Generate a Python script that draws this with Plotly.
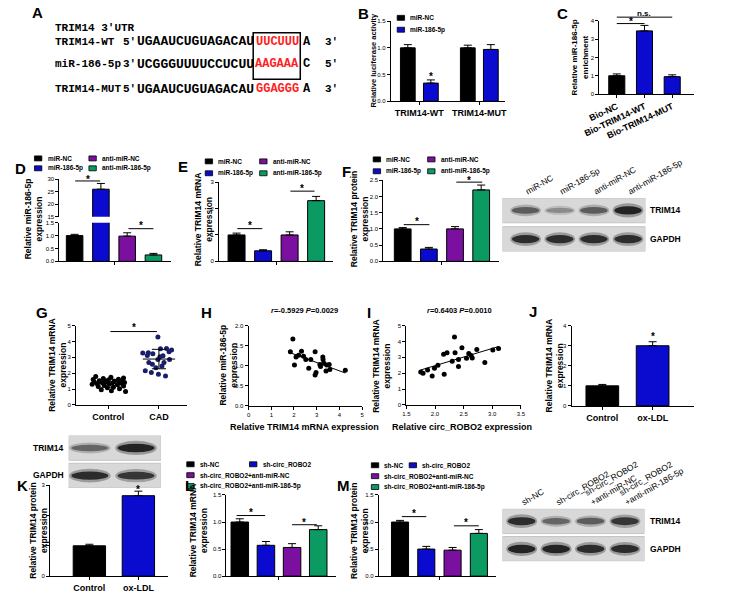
import numpy as np
import plotly.graph_objects as go

W, H = 740, 593
SANS = "Liberation Sans, Arial, sans-serif"
MONO = "Liberation Mono, Courier New, monospace"
C_BLACK, C_BLUE, C_PURPLE, C_GREEN, C_NAVY, C_RED = "#000000", "#0b0bcf", "#7a0fa0", "#0b9a62", "#1b1f6b", "#ff1e1e"

# ================= DATA =================
# Panel A
a_header = "TRIM14 3'UTR"
a_names = ["TRIM14-WT", "miR-186-5p", "TRIM14-MUT"]
a_end_l = ["5'", "3'", "5'"]
a_seq_l = ["UGAAUCUGUAGACAU", "UCGGGUUUUCCUCUU", "UGAAUCUGUAGACAU"]
a_site = ["UUCUUU", "AAGAAA", "GGAGGG"]
a_seq_r = ["A", "C", "A"]
a_end_r = ["3'", "5'", "3'"]

# Panel B
b_groups = ["TRIM14-WT", "TRIM14-MUT"]
b_series = ["miR-NC", "miR-186-5p"]
b_nc = [1.0, 1.0]
b_nc_err = [0.06, 0.05]
b_mir = [0.34, 0.97]
b_mir_err = [0.06, 0.09]

# Panel C
c_cats = ["Bio-NC", "Bio-TRIM14-WT", "Bio-TRIM14-MUT"]
c_vals = [1.0, 3.45, 0.95]
c_err = [0.1, 0.3, 0.1]

# Panels D/E/F
def_series = ["miR-NC", "miR-186-5p", "anti-miR-NC", "anti-miR-186-5p"]
d_vals = [1.0, 26.0, 0.98, 0.25]
d_err = [0.05, 2.3, 0.13, 0.06]
e_vals = [1.0, 0.40, 1.0, 2.30]
e_err = [0.07, 0.04, 0.12, 0.16]
f_vals = [1.0, 0.38, 1.0, 2.20]
f_err = [0.04, 0.05, 0.07, 0.15]
f_blot_trim14 = [0.70, 0.45, 0.70, 1.00]
f_blot_gapdh = [0.95, 0.95, 0.95, 0.95]

# Panel G
g_cats = ["Control", "CAD"]
ctrl_y = [1.80, 1.74, 1.70, 1.66, 1.62, 1.60, 1.57, 1.55, 1.52, 1.50, 1.48, 1.46, 1.44, 1.42, 1.40,
          1.38, 1.36, 1.34, 1.32, 1.30, 1.27, 1.24, 1.20, 1.16, 1.12, 1.08, 1.02, 0.96, 0.90, 0.84]
ctrl_dx = [-0.25, 0.05, 0.30, -0.10, 0.20, -0.30, 0.00, 0.28, -0.18, 0.12, -0.05, 0.22, -0.28, 0.32, -0.12,
           0.08, 0.26, -0.22, 0.02, -0.32, 0.18, -0.08, 0.30, -0.20, 0.10, -0.02, 0.22, -0.14, 0.06, 0.34]
cad_y = [4.29, 3.56, 3.55, 3.46, 3.29, 3.27, 3.23, 3.12, 3.10, 3.04, 2.87, 2.87, 2.67, 2.67, 2.56,
         2.46, 2.35, 2.15, 2.04, 1.94, 1.83, 3.35]
cad_dx = [-0.02, 0.15, 0.03, 0.25, -0.21, -0.32, -0.12, -0.23, 0.08, 0.02, -0.02, 0.21, 0.10, -0.20, -0.13,
          0.06, -0.06, -0.27, -0.15, -0.01, 0.13, 0.20]

# Panel H
h_title = "<i>r</i>=-0.5929 <i>P</i>=0.0029"
h_x = [1.95, 1.84, 2.09, 2.20, 2.33, 2.42, 2.52, 2.02, 2.74, 2.93, 2.65, 2.93, 2.97, 3.14, 3.17, 3.27,
       3.28, 3.31, 3.44, 3.55, 3.41, 3.58, 4.26]
h_y = [1.67, 1.35, 1.22, 1.26, 1.36, 1.24, 1.16, 1.02, 1.16, 1.35, 0.94, 0.77, 0.83, 1.03, 0.98, 1.22,
       1.16, 1.07, 1.02, 1.03, 0.87, 0.91, 0.89]

# Panel I
i_title = "<i>r</i>=0.6403 <i>P</i>=0.0010"
i_x = [1.75, 1.79, 1.87, 1.95, 1.99, 2.05, 2.15, 2.16, 2.21, 2.30, 2.34, 2.35, 2.41, 2.41, 2.47, 2.55,
       2.59, 2.63, 2.65, 2.73, 2.87, 3.01, 3.11]
i_y = [2.08, 2.00, 2.21, 1.83, 2.31, 2.50, 3.19, 1.94, 3.29, 2.75, 4.29, 3.29, 2.87, 2.42, 3.60, 2.94,
       3.25, 3.12, 2.96, 3.50, 2.67, 3.46, 3.56]

# Panels J/K
jk_cats = ["Control", "ox-LDL"]
j_vals = [1.0, 3.0]
j_err = [0.07, 0.2]
k_vals = [1.0, 2.65]
k_err = [0.05, 0.15]
k_blot_trim14 = [0.65, 1.00]
k_blot_gapdh = [0.95, 0.90]

# Panels L/M
lm_series = ["sh-NC", "sh-circ_ROBO2", "sh-circ_ROBO2+anti-miR-NC", "sh-circ_ROBO2+anti-miR-186-5p"]
l_vals = [1.0, 0.57, 0.53, 0.86]
l_err = [0.06, 0.07, 0.07, 0.07]
m_vals = [1.0, 0.50, 0.48, 0.79]
m_err = [0.03, 0.05, 0.05, 0.07]
m_lanes = ["sh-NC", "sh-circ_ROBO2", "sh-circ_ROBO2<br>+anti-miR-NC", "sh-circ_ROBO2<br>+anti-miR-186-5p"]
m_blot_trim14 = [0.95, 0.65, 0.70, 0.90]
m_blot_gapdh = [1.00, 1.00, 0.95, 0.95]

COLORS4 = [C_BLACK, C_BLUE, C_PURPLE, C_GREEN]

# ================= HELPERS =================
fig = go.Figure()
layout = {}
shapes = []
annos = []
n_ax = [0]
GEOM = {}

AX = dict(showline=True, linecolor="black", linewidth=1, ticks="outside", ticklen=3, tickwidth=1,
          tickcolor="black", showgrid=False, zeroline=False, fixedrange=True,
          tickfont=dict(size=6, family=SANS, color="black"))


def add_axes(x0, x1, ytop, ybot, xr, yr, xkw=None, ykw=None):
    n_ax[0] += 1
    i = n_ax[0]
    s = "" if i == 1 else str(i)
    xa = dict(AX)
    xa.update(domain=[x0 / W, x1 / W], range=xr, anchor="y" + s)
    ya = dict(AX)
    ya.update(domain=[1 - ybot / H, 1 - ytop / H], range=yr, anchor="x" + s)
    if xkw:
        xa.update(xkw)
    if ykw:
        ya.update(ykw)
    layout["xaxis" + s] = xa
    layout["yaxis" + s] = ya
    GEOM["x" + s] = (x0, x1, xr)
    GEOM["y" + s] = (ytop, ybot, yr)
    return "x" + s, "y" + s


def xpx(xa, v):
    a, b, r = GEOM[xa]
    return a + (v - r[0]) / (r[1] - r[0]) * (b - a)


def ypx(ya, v):
    t, b, r = GEOM[ya]
    return b - (v - r[0]) / (r[1] - r[0]) * (b - t)


def txt(x, y, s, size=8, bold=False, xanchor="center", yanchor="middle", angle=0, color="black",
        family=SANS, yshift=0):
    annos.append(dict(x=x / W, y=1 - y / H, xref="paper", yref="paper", text=(f"<b>{s}</b>" if bold else s),
                      showarrow=False, xanchor=xanchor, yanchor=yanchor, textangle=angle, yshift=yshift,
                      font=dict(size=size, family=family, color=color)))


def legend_item(xsq, y, color, text):
    shapes.append(dict(type="rect", xref="paper", yref="paper", x0=xsq / W, x1=(xsq + 8) / W,
                       y0=1 - (y + 2.5) / H, y1=1 - (y - 2.5) / H, fillcolor=color,
                       line=dict(color="black", width=0.8)))
    txt(xsq + 12, y, text, size=6.5, bold=True, xanchor="left")


def bars(xa, ya, vals, errs, colors, width):
    fig.add_trace(go.Bar(x=list(range(len(vals))), y=vals, width=width,
                         marker=dict(color=colors, line=dict(color="black", width=1)),
                         error_y=dict(type="data", array=errs, arrayminus=[0] * len(vals), symmetric=False,
                                      color="black", thickness=1, width=4),
                         xaxis=xa, yaxis=ya, showlegend=False, hoverinfo="skip"))


def sig(xa, ya, x0, x1, yline, ystar, label="*", size=10):
    if x0 is not None:
        py = ypx(ya, yline)
        shapes.append(dict(type="line", xref="paper", yref="paper", x0=xpx(xa, x0) / W, x1=xpx(xa, x1) / W,
                           y0=1 - py / H, y1=1 - py / H, line=dict(color="black", width=1)))
        xc = (x0 + x1) / 2
    else:
        xc = x1
    txt(xpx(xa, xc), ypx(ya, ystar), label, size=size, bold=True, yshift=-2)


def blot(x0, x1, ytop, ybot, xr, gap, top_int, bot_int, lanes=None):
    xkw = dict(showline=False, ticks="", side="top", tickangle=-30, showticklabels=lanes is not None,
               tickvals=list(range(len(top_int))), ticktext=lanes or [""] * len(top_int),
               tickfont=dict(size=8.5, family=SANS, color="black"))
    ykw = dict(visible=False)
    xa, ya = add_axes(x0, x1, ytop, ybot, xr, [0, 2 + gap], xkw, ykw)
    for (r0, r1) in [(0, 1), (1 + gap, 2 + gap)]:
        shapes.append(dict(type="rect", xref=xa, yref=ya, x0=xr[0], x1=xr[1], y0=r0, y1=r1,
                           fillcolor="#d8d8d8", line=dict(color="#c4c4c4", width=1), layer="below"))
    for row_base, ints in [(0, bot_int), (1 + gap, top_int)]:
        yc = row_base + 0.5
        for i, v in enumerate(ints):
            h = 0.12 + 0.22 * v
            g = int(225 - 190 * v)
            shapes.append(dict(type="circle", xref=xa, yref=ya, x0=i - 0.45, x1=i + 0.45,
                               y0=yc - h * 0.85, y1=yc + h * 0.85, fillcolor=f"rgba({g},{g},{g},0.35)",
                               line=dict(width=0)))
            shapes.append(dict(type="circle", xref=xa, yref=ya, x0=i - 0.40, x1=i + 0.40,
                               y0=yc - h / 2, y1=yc + h / 2, fillcolor=f"rgb({g},{g},{g})",
                               line=dict(width=0)))
    return xa, ya


# ================= PANEL A =================
txt(23, 10, "A", size=15, bold=True)
txt(40, 25, a_header, size=11, bold=True, xanchor="left", family=MONO)
rows_y = [39, 62, 87]
for k in range(3):
    y = rows_y[k]
    txt(40, y, a_names[k], size=11, bold=True, xanchor="left", family=MONO)
    txt(114, y, a_end_l[k], size=11, bold=True, xanchor="left", family=MONO)
    txt(129, y, a_seq_l[k], size=13, bold=True, xanchor="left", family=MONO)
    txt(283, y, a_site[k], size=12, bold=True, family=MONO, color=C_RED)
    txt(315, y, a_seq_r[k], size=12, bold=True, family=MONO)
    txt(333, y, a_end_r[k], size=11, bold=True, xanchor="left", family=MONO)
shapes.append(dict(type="rect", xref="paper", yref="paper", x0=257 / W, x1=308 / W, y0=1 - 77 / H, y1=1 - 30 / H,
                   line=dict(color="black", width=1.5)))

# ================= PANEL B =================
txt(377, 11, "B", size=15, bold=True)
xa, ya = add_axes(406, 530, 18.3, 99.3, [-0.477, 1.431], [0, 1.5],
                  dict(tickvals=[0, 1], ticktext=[f"<b>{g}</b>" for g in b_groups],
                       tickfont=dict(size=9, family=SANS, color="black")),
                  dict(tickvals=[0, 0.5, 1.0, 1.5], tickformat=".1f"))
for vals, errs, col, off in [(b_nc, b_nc_err, C_BLACK, -0.315), (b_mir, b_mir_err, C_BLUE, 0.069)]:
    fig.add_trace(go.Bar(x=[0, 1], y=vals, width=0.246, offset=off,
                         marker=dict(color=col, line=dict(color="black", width=1)),
                         error_y=dict(type="data", array=errs, arrayminus=[0, 0], symmetric=False,
                                      color="black", thickness=1, width=4),
                         xaxis=xa, yaxis=ya, showlegend=False, hoverinfo="skip"))
sig(xa, ya, None, 0.19, None, 0.51)
txt(387, 58, "Relative luciferase activity", size=7.5, bold=True, angle=-90)
legend_item(413, 15, C_BLACK, b_series[0])
legend_item(413, 27, C_BLUE, b_series[1])

# ================= PANEL C =================
txt(592, 11, "C", size=15, bold=True)
xa, ya = add_axes(632, 735, 18, 92, [-0.63, 2.8], [0, 4],
                  dict(tickvals=[0, 1, 2], ticktext=[f"<b>{c}</b>" for c in c_cats], tickangle=-25,
                       tickfont=dict(size=9, family=SANS, color="black")),
                  dict(tickvals=[0, 1, 2, 3, 4]))
bars(xa, ya, c_vals, c_err, [C_BLACK, C_BLUE, C_BLUE], 0.58)
sig(xa, ya, 0, 1, 3.85, 4.05)
sig(xa, ya, 0, 2, 4.2, 4.5, label="n.s.", size=8)
txt(611, 55, "Relative miR-186-5p<br>enrichment", size=8, bold=True, angle=-90)

# ================= PANEL D (broken axis) =================
txt(5, 167, "D", size=15, bold=True)
legend_item(20, 157, COLORS4[0], def_series[0])
legend_item(20, 167, COLORS4[1], def_series[1])
legend_item(79, 157, COLORS4[2], def_series[2])
legend_item(79, 167, COLORS4[3], def_series[3])
dxr = [-0.58, 3.67]
xa, ya = add_axes(47, 168, 222, 261, dxr, [0, 1.5],
                  dict(tickvals=[1.5], ticktext=[""]),
                  dict(tickvals=[0, 0.5, 1.0, 1.5], tickformat=".1f"))
d_low_err = [e if v <= 1.5 else 0 for v, e in zip(d_vals, d_err)]
bars(xa, ya, d_vals, d_low_err, COLORS4, 0.63)
sig(xa, ya, 2.05, 3.0, 1.27, 1.47)
xa2, ya2 = add_axes(47, 168, 178, 216, dxr, [15, 30],
                    dict(visible=False), dict(tickvals=[15, 20, 25, 30]))
hi_idx = [k for k, v in enumerate(d_vals) if v > 15]
fig.add_trace(go.Bar(x=hi_idx, y=[d_vals[k] for k in hi_idx], width=0.63,
                     marker=dict(color=[COLORS4[k] for k in hi_idx], line=dict(color="black", width=1)),
                     error_y=dict(type="data", array=[d_err[k] for k in hi_idx], arrayminus=[0] * len(hi_idx),
                                  symmetric=False, color="black", thickness=1, width=4),
                     xaxis=xa2, yaxis=ya2, showlegend=False, hoverinfo="skip"))
sig(xa2, ya2, 0.02, 0.97, 29.3, 30.6)
txt(19, 218, "Relative miR-186-5p<br>expression", size=8.5, bold=True, angle=-90)

# ================= PANEL E =================
txt(181, 165, "E", size=15, bold=True)
legend_item(205, 160, COLORS4[0], def_series[0])
legend_item(205, 172, COLORS4[1], def_series[1])
legend_item(264, 160, COLORS4[2], def_series[2])
legend_item(264, 172, COLORS4[3], def_series[3])
xa, ya = add_axes(220, 343, 181, 261, [-0.66, 3.62], [0, 3],
                  dict(tickvals=[1.5], ticktext=[""]), dict(tickvals=[0, 1, 2, 3]))
bars(xa, ya, e_vals, e_err, COLORS4, 0.64)
sig(xa, ya, 0.03, 0.97, 1.24, 1.42)
sig(xa, ya, 2.03, 2.94, 2.66, 2.85)
txt(203, 218, "Relative TRIM14 mRNA<br>expression", size=8.5, bold=True, angle=-90)

# ================= PANEL F =================
txt(358, 170, "F", size=15, bold=True)
legend_item(387, 158, COLORS4[0], def_series[0])
legend_item(387, 170, COLORS4[1], def_series[1])
legend_item(446, 158, COLORS4[2], def_series[2])
legend_item(446, 170, COLORS4[3], def_series[3])
xa, ya = add_axes(398, 523, 179, 261, [-0.74, 3.67], [0, 2.5],
                  dict(tickvals=[1.5], ticktext=[""]),
                  dict(tickvals=[0, 0.5, 1.0, 1.5, 2.0, 2.5], tickformat=".1f"))
bars(xa, ya, f_vals, f_err, COLORS4, 0.64)
sig(xa, ya, 0.04, 1.02, 1.13, 1.28)
sig(xa, ya, 2.05, 3.04, 2.44, 2.56)
txt(372, 218, "Relative TRIM14 protein<br>expression", size=8.5, bold=True, angle=-90)
blot(527, 682, 197, 251, [-0.68, 3.51], 0.16, f_blot_trim14, f_blot_gapdh, lanes=def_series)
txt(685, 209.5, "TRIM14", size=8.5, bold=True, xanchor="left")
txt(685, 238.5, "GAPDH", size=8.5, bold=True, xanchor="left")

# ================= PANEL G =================
txt(28, 313, "G", size=15, bold=True)
xa, ya = add_axes(65, 185, 326, 406, [-0.64, 1.55], [0, 5],
                  dict(tickvals=[0, 1], ticktext=[f"<b>{c}</b>" for c in g_cats],
                       tickfont=dict(size=9, family=SANS, color="black")),
                  dict(tickvals=[0, 1, 2, 3, 4, 5]))
for ci, (yy, dx, col) in enumerate([(ctrl_y, ctrl_dx, C_BLACK), (cad_y, cad_dx, C_NAVY)]):
    fig.add_trace(go.Scatter(x=[ci + d for d in dx], y=yy, mode="markers",
                             marker=dict(color=col, size=5), xaxis=xa, yaxis=ya, showlegend=False,
                             hoverinfo="skip"))
    m = float(np.mean(yy))
    s = float(np.std(yy, ddof=1))
    for xs, ys in [([ci - 0.32, ci + 0.32], [m, m]), ([ci, ci], [m - s, m + s]),
                   ([ci - 0.14, ci + 0.14], [m - s, m - s]), ([ci - 0.14, ci + 0.14], [m + s, m + s])]:
        fig.add_trace(go.Scatter(x=xs, y=ys, mode="lines", line=dict(color="black", width=1),
                                 xaxis=xa, yaxis=ya, showlegend=False, hoverinfo="skip"))
sig(xa, ya, 0.04, 0.96, 4.63, 5.0)
txt(45, 366, "Relative TRIM14 mRNA<br>expression", size=8.5, bold=True, angle=-90)

# ================= PANEL H =================
txt(206, 313, "H", size=15, bold=True)
xa, ya = add_axes(252, 375, 326, 407, [0, 5], [0, 2.0],
                  dict(tickvals=[0, 1, 2, 3, 4, 5]),
                  dict(tickvals=[0, 0.5, 1.0, 1.5, 2.0], tickformat=".1f"))
fig.add_trace(go.Scatter(x=h_x, y=h_y, mode="markers", marker=dict(color="black", size=5),
                         xaxis=xa, yaxis=ya, showlegend=False, hoverinfo="skip"))
coef = np.polyfit(h_x, h_y, 1)
xs = [min(h_x), max(h_x)]
fig.add_trace(go.Scatter(x=xs, y=list(np.polyval(coef, xs)), mode="lines", line=dict(color="black", width=1),
                         xaxis=xa, yaxis=ya, showlegend=False, hoverinfo="skip"))
txt(313, 311, h_title, size=7.5, bold=True)
txt(230, 366, "Relative miR-186-5p<br>expression", size=8.5, bold=True, angle=-90)
txt(313, 428, "Relative TRIM14 mRNA expression", size=9, bold=True)

# ================= PANEL I =================
txt(383, 313, "I", size=15, bold=True)
xa, ya = add_axes(423, 547, 326, 406, [1.5, 3.5], [0, 5],
                  dict(tickvals=[1.5, 2.0, 2.5, 3.0, 3.5], tickformat=".1f"),
                  dict(tickvals=[0, 1, 2, 3, 4, 5]))
fig.add_trace(go.Scatter(x=i_x, y=i_y, mode="markers", marker=dict(color="black", size=5),
                         xaxis=xa, yaxis=ya, showlegend=False, hoverinfo="skip"))
coef = np.polyfit(i_x, i_y, 1)
xs = [min(i_x), max(i_x)]
fig.add_trace(go.Scatter(x=xs, y=list(np.polyval(coef, xs)), mode="lines", line=dict(color="black", width=1),
                         xaxis=xa, yaxis=ya, showlegend=False, hoverinfo="skip"))
txt(480, 311, i_title, size=7.5, bold=True)
txt(396, 366, "Relative TRIM14 mRNA<br>expression", size=8.5, bold=True, angle=-90)
txt(483, 428, "Relative circ_ROBO2 expression", size=9, bold=True)

# ================= PANEL J =================
txt(560, 312, "J", size=15, bold=True)
xa, ya = add_axes(602, 735, 326, 407, [-0.61, 1.83], [0, 4],
                  dict(tickvals=[0, 1], ticktext=[f"<b>{c}</b>" for c in jk_cats],
                       tickfont=dict(size=9, family=SANS, color="black")),
                  dict(tickvals=[0, 1, 2, 3, 4]))
bars(xa, ya, j_vals, j_err, [C_BLACK, C_BLUE], 0.65)
sig(xa, ya, None, 1, None, 3.56)
txt(583, 366, "Relative TRIM14 mRNA<br>expression", size=8.5, bold=True, angle=-90)

# ================= PANEL K =================
blot(57, 157, 437, 490, [-0.46, 1.54], 0.12, k_blot_trim14, k_blot_gapdh)
txt(54, 450, "TRIM14", size=8.5, bold=True, xanchor="right")
txt(54, 477, "GAPDH", size=8.5, bold=True, xanchor="right")
txt(7, 487, "K", size=15, bold=True)
xa, ya = add_axes(37, 165, 487, 579, [-0.8, 1.61], [0, 3],
                  dict(tickvals=[0, 1], ticktext=[f"<b>{c}</b>" for c in jk_cats],
                       tickfont=dict(size=9, family=SANS, color="black")),
                  dict(tickvals=[0, 1, 2, 3]))
bars(xa, ya, k_vals, k_err, [C_BLACK, C_BLUE], 0.66)
sig(xa, ya, None, 1, None, 2.93)
txt(24, 533, "Relative TRIM14 protein<br>expression", size=8.5, bold=True, angle=-90)

# ================= PANEL L =================
txt(188, 487, "L", size=15, bold=True)
legend_item(185, 466, COLORS4[0], lm_series[0])
legend_item(253, 466, COLORS4[1], lm_series[1])
legend_item(185, 477, COLORS4[2], lm_series[2])
legend_item(185, 488, COLORS4[3], lm_series[3])
xa, ya = add_axes(228, 347, 497, 579, [-0.51, 3.69], [0, 1.5],
                  dict(tickvals=[1.5], ticktext=[""]),
                  dict(tickvals=[0, 0.5, 1.0, 1.5], tickformat=".1f"))
bars(xa, ya, l_vals, l_err, COLORS4, 0.67)
sig(xa, ya, -0.12, 0.97, 1.12, 1.21)
sig(xa, ya, 2.0, 2.95, 0.95, 1.03)
txt(198, 533, "Relative TRIM14 mRNA<br>expression", size=8.5, bold=True, angle=-90)

# ================= PANEL M =================
txt(355, 487, "M", size=15, bold=True)
legend_item(385, 467, COLORS4[0], lm_series[0])
legend_item(426, 467, COLORS4[1], lm_series[1])
legend_item(385, 478, COLORS4[2], lm_series[2])
legend_item(385, 489, COLORS4[3], lm_series[3])
xa, ya = add_axes(393, 520, 497, 579, [-0.81, 3.65], [0, 1.5],
                  dict(tickvals=[1.5], ticktext=[""]),
                  dict(tickvals=[0, 0.5, 1.0, 1.5], tickformat=".1f"))
bars(xa, ya, m_vals, m_err, COLORS4, 0.65)
sig(xa, ya, 0.07, 1.0, 1.10, 1.19)
sig(xa, ya, 2.05, 3.0, 0.93, 1.02)
txt(372, 533, "Relative TRIM14 protein<br>expression", size=8.5, bold=True, angle=-90)
blot(527, 681, 511, 564, [-0.56, 3.57], 0.12, m_blot_trim14, m_blot_gapdh, lanes=m_lanes)
txt(685, 523.5, "TRIM14", size=8.5, bold=True, xanchor="left")
txt(685, 551.5, "GAPDH", size=8.5, bold=True, xanchor="left")

# ================= LAYOUT =================
fig.update_layout(layout)
fig.update_layout(width=W, height=H, margin=dict(l=0, r=0, t=0, b=0), paper_bgcolor="white",
                  plot_bgcolor="rgba(0,0,0,0)", showlegend=False, barmode="overlay",
                  shapes=shapes, annotations=annos, font=dict(family=SANS, color="black"))
fig.write_html("out.html", post_script="document.body.style.margin='0';",
               config={"displayModeBar": False})
